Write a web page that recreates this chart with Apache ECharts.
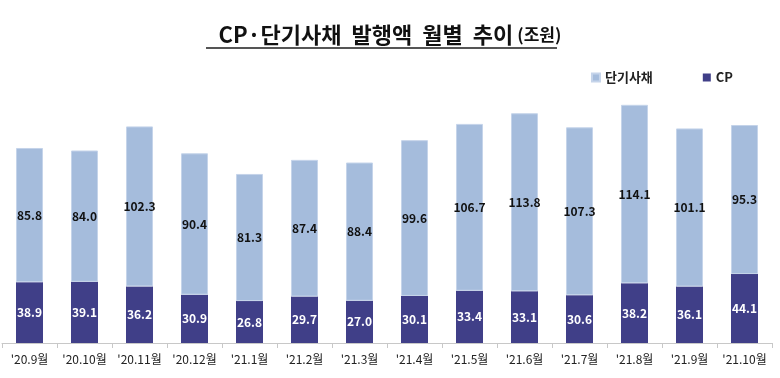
<!DOCTYPE html>
<html><head><meta charset="utf-8">
<script src="https://cdn.jsdelivr.net/npm/echarts@6/dist/echarts.min.js"></script>
<style>html,body{margin:0;padding:0;background:#fff}#c{width:780px;height:378px}</style>
</head><body><div id="c"></div>
<script>
const categories = ["'20.9월","'20.10월","'20.11월","'20.12월","'21.1월","'21.2월","'21.3월","'21.4월","'21.5월","'21.6월","'21.7월","'21.8월","'21.9월","'21.10월"];
const cpValues = [38.9,39.1,36.2,30.9,26.8,29.7,27.0,30.1,33.4,33.1,30.6,38.2,36.1,44.1];
const stbValues = [85.8,84.0,102.3,90.4,81.3,87.4,88.4,99.6,106.7,113.8,107.3,114.1,101.1,95.3];

const font = '"Noto Sans CJK KR","Noto Sans",sans-serif';
const chart = echarts.init(document.getElementById('c'));
chart.setOption({
  animation: false,
  textStyle: {fontFamily: font},
  title: {
    text: '{a|CP·단기사채  발행액  월별  추이} {b|(조원)}',
    left: 'center', top: 19,
    textStyle: {rich: {
      a: {fontSize: 22, fontWeight: 'bold', color: '#111', fontFamily: font},
      b: {fontSize: 17, fontWeight: 'bold', color: '#111', fontFamily: font}
    }}
  },
  graphic: [{type: 'line', shape: {x1: 206, y1: 48, x2: 557, y2: 48}, style: {stroke: '#555', lineWidth: 2}}],
  legend: {
    right: 42, top: 66, itemWidth: 8, itemHeight: 8, itemGap: 50,
    icon: 'rect',
    textStyle: {fontSize: 13, fontWeight: 'bold', color: '#222', fontFamily: font},
    data: ['단기사채', 'CP']
  },
  grid: {left: 2, right: 8, top: 61.5, bottom: 35},
  xAxis: {
    type: 'category', data: categories,
    axisLine: {lineStyle: {color: '#c8c8c8'}},
    axisTick: {show: true, length: 5, lineStyle: {color: '#c8c8c8'}},
    axisLabel: {fontSize: 12, color: '#222', margin: 10, interval: 0, fontFamily: font}
  },
  yAxis: {type: 'value', min: 0, max: 180, show: false, splitLine: {show: false}},
  series: [
    {name: 'CP', type: 'bar', stack: 'a', data: cpValues, barWidth: 27,
     itemStyle: {color: '#403f88'},
     label: {show: true, position: 'inside', color: '#fff', fontWeight: 'bold', fontSize: 12, fontFamily: font, formatter: p => p.value.toFixed(1)}},
    {name: '단기사채', type: 'bar', stack: 'a', data: stbValues, barWidth: 27,
     itemStyle: {color: '#a5bcdc', borderColor: '#c5d4ea', borderWidth: 1},
     label: {show: true, position: 'inside', color: '#111', fontWeight: 'bold', fontSize: 12, fontFamily: font, formatter: p => p.value.toFixed(1)}}
  ]
});
</script></body></html>
